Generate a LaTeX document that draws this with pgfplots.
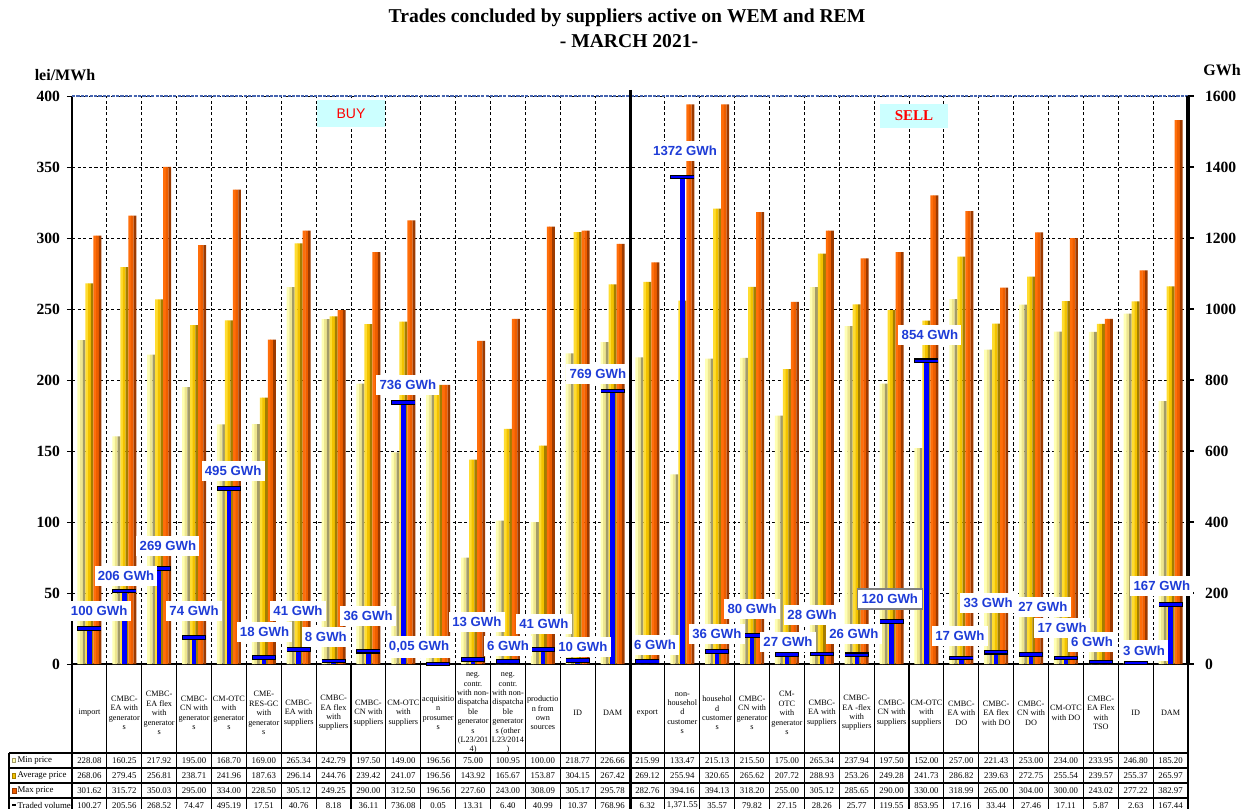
\documentclass[border=0pt]{standalone}
\usepackage{pgfplots}
\pgfplotsset{compat=1.18}
\usepackage{pgfplotstable}
\usepackage{fontspec}
\setmainfont{Liberation Serif}
\newfontfamily\arial{Liberation Sans}

\definecolor{minA}{HTML}{FFFFB4}
\definecolor{minB}{HTML}{EEE690}
\definecolor{minC}{HTML}{A39C68}
\definecolor{avgA}{HTML}{FFDC30}
\definecolor{avgB}{HTML}{F2C200}
\definecolor{avgC}{HTML}{A47E00}
\definecolor{maxA}{HTML}{FF6E0A}
\definecolor{maxB}{HTML}{EE5E00}
\definecolor{maxC}{HTML}{9C3A00}
\definecolor{gwh}{RGB}{30,60,215}
\definecolor{topline}{RGB}{70,100,175}
\definecolor{boxcyan}{HTML}{CCFFFF}

\pgfplotstableread{
x min avg max vol
0 228.08 268.06 301.62 100.27
1 160.25 279.45 315.72 205.56
2 217.92 256.81 350.03 268.52
3 195.00 238.71 295.00 74.47
4 168.70 241.96 334.00 495.19
5 169.00 187.63 228.50 17.51
6 265.34 296.14 305.12 40.76
7 242.79 244.76 249.25 8.18
8 197.50 239.42 290.00 36.11
9 149.00 241.07 312.50 736.08
10 196.56 196.56 196.56 0.05
11 75.00 143.92 227.60 13.31
12 100.95 165.67 243.00 6.40
13 100.00 153.87 308.09 40.99
14 218.77 304.15 305.17 10.37
15 226.66 267.42 295.78 768.96
16 215.99 269.12 282.76 6.32
17 133.47 255.94 394.16 1371.55
18 215.13 320.65 394.13 35.57
19 215.50 265.62 318.20 79.82
20 175.00 207.72 255.00 27.15
21 265.34 288.93 305.12 28.26
22 237.94 253.26 285.65 25.77
23 197.50 249.28 290.00 119.55
24 152.00 241.73 330.00 853.95
25 257.00 286.82 318.99 17.16
26 221.43 239.63 265.00 33.44
27 253.00 272.75 304.00 27.46
28 234.00 255.54 300.00 17.11
29 233.95 239.57 243.02 5.87
30 246.80 255.37 277.22 2.63
31 185.20 265.97 382.97 167.44
}\data

\pgfplotstableread{
x y lbl
0.28 149 100
1.05 249 206
2.25 332 269
3.00 149 74
4.12 544 495
5.02 91 18
5.98 150 41
6.78 77 8
7.99 135 36
9.13 786 736
9.45 49 0,05
11.11 119 13
12.00 51 6
13.03 113 41
14.15 49 10
14.58 817 769
16.22 54 6
17.08 1445 1372
17.99 85 36
19.00 155 80
20.03 63 27
20.72 138 28
21.92 85 26
24.10 927 854
24.96 80 17
25.77 172 33
27.34 161 27
27.89 101 17
28.75 62 6
30.24 38 3
30.75 220 167
}\gwhlabels

\pgfplotstableread{
x y lbl
22.95 183 120
}\gwhboxed

\newcommand\stripe[4]{\addplot[ybar, draw=none, fill=#1, bar width=#2, bar shift=#3, forget plot] table[x=x, y=#4]{\data};}

\begin{document}
\begin{tikzpicture}
\useasboundingbox (0pt,0pt) rectangle (625.5pt,404.5pt);

\begin{axis}[
  at={(36pt,72.5pt)}, anchor=south west,
  scale only axis, width=558pt, height=284pt,
  xmin=-0.5, xmax=31.5, ymin=0, ymax=400,
  axis x line*=bottom, axis y line*=left,
  axis line style={-, black, line width=0.6pt},
  xtick={0,...,31},
  xticklabels={import, {CMBC-\\EA with\\generator\\s}, {CMBC-\\EA flex\\with\\generator\\s}, {CMBC-\\CN with\\generator\\s}, {CM-OTC\\with\\generator\\s}, {CME-\\RES-GC\\with\\generator\\s}, {CMBC-\\EA with\\suppliers}, {CMBC-\\EA flex\\with\\suppliers}, {CMBC-\\CN with\\suppliers}, {CM-OTC\\with\\suppliers}, {acquisitio\\n\\prosumer\\s}, {neg.\\contr.\\with non-\\dispatcha\\ble\\generator\\s\\(L23/201\\4)}, {neg.\\contr.\\with non-\\dispatcha\\ble\\generator\\s (other\\L23/2014\\)}, {productio\\n from\\own\\sources}, ID, DAM, export, {non-\\househol\\d\\customer\\s}, {househol\\d\\customer\\s}, {CMBC-\\CN with\\generator\\s}, {CM-\\OTC\\with\\generator\\s}, {CMBC-\\EA with\\suppliers}, {CMBC-\\EA -flex\\with\\suppliers}, {CMBC-\\CN with\\suppliers}, {CM-OTC\\with\\suppliers}, {CMBC-\\EA with\\DO}, {CMBC-\\EA flex\\with DO}, {CMBC-\\CN with\\DO}, {CM-OTC\\with DO}, {CMBC-\\EA Flex\\with\\TSO}, ID, DAM},
  xticklabel style={font=\fontsize{4.1}{4.7}\selectfont, align=center, anchor=center, yshift=-22pt},
  x tick style={draw=none},
  minor xtick={0.5,1.5,...,30.5},
  minor x tick style={draw=none},
  xminorgrids,
  minor x grid style={black, line width=0.4pt, dash pattern=on 1.6pt off 1.2pt},
  ytick={0,50,...,400},
  ymajorgrids,
  major y grid style={black, line width=0.4pt, dash pattern=on 1.6pt off 1.2pt},
  tick align=outside,
  major tick length=2.5pt,
  y tick style={black, line width=0.5pt},
  yticklabel style={font=\fontsize{7.8}{8}\selectfont\bfseries},
  /pgf/number format/assume math mode=true,
  clip=false,
]
\stripe{minA}{1.5pt}{-5.25pt}{min}
\stripe{minB}{1.4pt}{-4pt}{min}
\stripe{minC}{1.3pt}{-2.65pt}{min}
\stripe{avgA}{1.5pt}{-1.25pt}{avg}
\stripe{avgB}{1.4pt}{0pt}{avg}
\stripe{avgC}{1.3pt}{1.35pt}{avg}
\stripe{maxA}{1.5pt}{2.75pt}{max}
\stripe{maxB}{1.4pt}{4pt}{max}
\stripe{maxC}{1.3pt}{5.35pt}{max}
\draw[topline, line width=1.2pt, dash pattern=on 1.6pt off 0.6pt] (axis cs:-0.5,400) -- (axis cs:31.5,400);
\end{axis}

\begin{axis}[
  at={(36pt,72.5pt)}, anchor=south west,
  scale only axis, width=558pt, height=284pt,
  xmin=-0.5, xmax=31.5, ymin=0, ymax=1600,
  axis x line=none, axis y line*=right,
  y axis line style={-, black, line width=2pt},
  ytick={0,200,...,1600},
  tick align=outside,
  major tick length=3pt,
  y tick style={black, line width=1.2pt},
  yticklabel style={font=\fontsize{7.8}{8}\selectfont\bfseries, xshift=2pt},
  /pgf/number format/assume math mode=true,
  /pgf/number format/1000 sep={},
  clip=false,
]
\addplot[ycomb, color=blue, line width=2.2pt, forget plot] table[x=x, y=vol]{\data};
\addplot[only marks, mark=-, mark size=6pt, mark options={line width=2.4pt, draw=black}, forget plot] table[x=x, y=vol]{\data};
\addplot[only marks, mark=-, mark size=5.6pt, mark options={line width=1.3pt, draw=blue}, forget plot] table[x=x, y=vol]{\data};
\addplot[only marks, mark=none, point meta=explicit symbolic,
  nodes near coords={\pgfplotspointmeta~GWh},
  every node near coord/.append style={anchor=center, fill=white, text=gwh, font=\arial\bfseries\fontsize{6.6}{7}\selectfont, inner xsep=1.6pt, inner ysep=2.6pt}]
  table[x=x, y=y, meta=lbl]{\gwhlabels};
\addplot[only marks, mark=none, point meta=explicit symbolic,
  nodes near coords={\pgfplotspointmeta~GWh},
  every node near coord/.append style={anchor=center, fill=white, draw=gray, line width=0.6pt, text=gwh, font=\arial\bfseries\fontsize{6.6}{7}\selectfont, inner xsep=2.2pt, inner ysep=2.6pt}]
  table[x=x, y=y, meta=lbl]{\gwhboxed};
\end{axis}

% BUY / SELL divider
\draw[black, line width=1.5pt] (315pt,359.5pt) -- (315pt,0pt);

% title and axis titles
\node[font=\fontsize{9.8}{11}\selectfont\bfseries] at (313.5pt,395.5pt) {Trades concluded by suppliers active on WEM and REM};
\node[font=\fontsize{9.8}{11}\selectfont\bfseries] at (314.5pt,384pt) {- MARCH 2021-};
\node[font=\fontsize{8}{9}\selectfont\bfseries] at (32.5pt,367pt) {lei/MWh};
\node[font=\fontsize{8}{9}\selectfont\bfseries] at (611pt,369.5pt) {GWh};

% BUY / SELL boxes
\node[fill=boxcyan, minimum width=34pt, minimum height=13.5pt, text=red, font=\arial\fontsize{7}{8}\selectfont] at (175.5pt,347.75pt) {BUY};
\node[fill=boxcyan, minimum width=34pt, minimum height=12pt, text=red, font=\fontsize{7.5}{8}\selectfont\bfseries] at (457pt,346.5pt) {SELL};

% data table
\foreach \i in {0,...,32}{
  \draw[black, line width=0.6pt] ({36pt+\i*17.4375pt},72.5pt) -- ({36pt+\i*17.4375pt},0pt);
}
\draw[black, line width=1.5pt] (315pt,72.5pt) -- (315pt,0pt);
\draw[black, line width=0.6pt] (4.5pt,28pt) -- (4.5pt,0pt);
\foreach \yy in {28,20.5,13,5.5}{
  \draw[black, line width=0.6pt] (4.5pt,\yy pt) -- (594pt,\yy pt);
}
\fill[minA, draw=minC, line width=0.2pt] (6pt,23.2pt) rectangle (7.6pt,25.4pt);
\fill[avgB, draw=avgC, line width=0.2pt] (6pt,15.5pt) rectangle (7.8pt,18pt);
\fill[maxB, draw=maxC, line width=0.2pt] (6pt,8pt) rectangle (8pt,10.5pt);
\fill[black] (6pt,1.6pt) rectangle (8pt,2.6pt);
\tikzset{rowlab/.style={anchor=west, inner sep=0pt, font=\fontsize{4.4}{5}\selectfont}}
\node[rowlab] at (8.6pt,24.25pt) {Min price};
\node[rowlab] at (8.6pt,16.75pt) {Average price};
\node[rowlab] at (8.6pt,9.25pt) {Max price};
\node[rowlab] at (8.6pt,1.9pt) {Traded volume};
\tikzset{val/.style={inner sep=0pt, font=\fontsize{4.4}{5}\selectfont}}
\pgfkeys{/pgf/number format/.cd, fixed, fixed zerofill, precision=2, 1000 sep={,}, assume math mode=true}
\pgfplotstableforeachcolumnelement{min}\of\data\as\cell{%
  \node[val] at ({36pt+(\pgfplotstablerow+0.5)*17.4375pt},24.25pt) {\pgfmathprintnumber{\cell}};}
\pgfplotstableforeachcolumnelement{avg}\of\data\as\cell{%
  \node[val] at ({36pt+(\pgfplotstablerow+0.5)*17.4375pt},16.75pt) {\pgfmathprintnumber{\cell}};}
\pgfplotstableforeachcolumnelement{max}\of\data\as\cell{%
  \node[val] at ({36pt+(\pgfplotstablerow+0.5)*17.4375pt},9.25pt) {\pgfmathprintnumber{\cell}};}
\pgfplotstableforeachcolumnelement{vol}\of\data\as\cell{%
  \node[val] at ({36pt+(\pgfplotstablerow+0.5)*17.4375pt},1.9pt) {\pgfmathprintnumber{\cell}};}
\end{tikzpicture}
\end{document}
